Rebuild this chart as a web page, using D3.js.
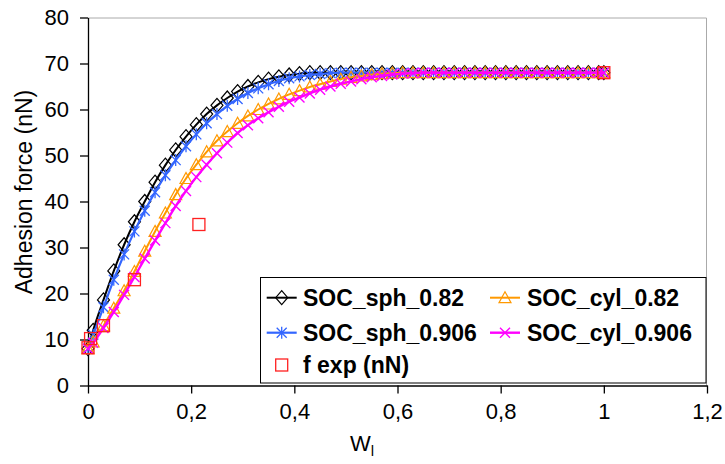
<!DOCTYPE html>
<html><head><meta charset="utf-8">
<script src="https://cdn.jsdelivr.net/npm/d3@7"></script>
<style>
body{margin:0;background:#fff;}
svg{display:block;font-family:"Liberation Sans",Arial,sans-serif;}
</style></head>
<body><svg id="c" width="725" height="464"></svg>
<script>
const xValues = [0,0.01,0.03,0.05,0.07,0.09,0.11,0.13,0.15,0.17,0.19,0.21,0.23,0.25,0.27,0.29,0.31,0.33,0.35,0.37,0.39,0.41,0.43,0.45,0.47,0.49,0.51,0.53,0.55,0.57,0.59,0.61,0.63,0.65,0.67,0.69,0.71,0.73,0.75,0.77,0.79,0.81,0.83,0.85,0.87,0.89,0.91,0.93,0.95,0.97,0.99,1];
const sph082 = [8,12,18.6,24.9,30.6,35.6,40,44.2,47.9,51.2,54.1,56.7,59,60.9,62.5,63.9,65,65.9,66.6,67.1,67.5,67.8,68,68,68,68,68,68,68,68,68,68,68,68,68,68,68,68,68,68,68,68,68,68,68,68,68,68,68,68,68,68];
const sph0906 = [8,11,17,23,28.5,33.5,38,42,45.7,49,52,54.6,57,59,60.8,62.3,63.6,64.6,65.5,66.2,66.8,67.2,67.5,67.7,67.9,68,68,68,68,68,68,68,68,68,68,68,68,68,68,68,68,68,68,68,68,68,68,68,68,68,68,68];
const cyl082 = [8,9.5,13,16.8,20.6,24.8,29.2,33.5,37.5,41.5,45,48,50.8,53.2,55.2,57,58.6,60,61.2,62.3,63.3,64.1,64.9,65.5,66.1,66.6,67,67.3,67.6,67.8,67.9,68,68,68,68,68,68,68,68,68,68,68,68,68,68,68,68,68,68,68,68,68];
const cyl0906 = [8,9.3,12.5,16,19.7,23.6,27.6,31.5,35.3,39,42.3,45.3,48,50.5,52.8,54.9,56.6,58.1,59.4,60.6,61.7,62.6,63.5,64.3,65,65.6,66.1,66.6,67,67.3,67.6,67.8,67.9,68,68,68,68,68,68,68,68,68,68,68,68,68,68,68,68,68,68,68];
const expX = [0,0.005,0.03,0.09,0.215,1];
const expY = [8.2,10.2,13,23,35,68];
const xTicks = [0,0.2,0.4,0.6,0.8,1,1.2];
const yTicks = [0,10,20,30,40,50,60,70,80];
const seriesNames = ["SOC_sph_0.82","SOC_cyl_0.82","SOC_sph_0.906","SOC_cyl_0.906","f exp (nN)"];

const svg = d3.select("#c");
const x = d3.scaleLinear().domain([0,1.2]).range([88,707]);
const y = d3.scaleLinear().domain([0,80]).range([385.5,17.5]);

// plot area border (top/right)
svg.append("path").attr("d",`M${x(0)},${y(80)+0.5}H${x(1.2)-0.5}V${y(0)}`)
  .attr("fill","none").attr("stroke","#aaa").attr("stroke-width",1);

const fmt = d => String(d).replace(".",",");
const gx = svg.append("g").attr("transform",`translate(0,${y(0)})`)
  .call(d3.axisBottom(x).tickValues(xTicks).tickFormat(fmt).tickSize(8).tickPadding(10).tickSizeOuter(0));
const gy = svg.append("g").attr("transform",`translate(${x(0)},0)`)
  .call(d3.axisLeft(y).tickValues(yTicks).tickSize(8).tickPadding(11).tickSizeOuter(0));
[gx,gy].forEach(g=>{
  g.selectAll("path,line").attr("stroke","#000").attr("stroke-width",1.3);
  g.selectAll("text").attr("font-size",22).attr("fill","#000").attr("font-family","Liberation Sans, Arial, sans-serif");
});

// axis titles
svg.append("text").attr("x",362).attr("y",451).attr("text-anchor","middle")
  .attr("font-size",22).text("W").append("tspan").attr("font-size",15).attr("dy",5).text("l");
svg.append("text").attr("transform","translate(32,192) rotate(-90)").attr("text-anchor","middle")
  .attr("font-size",23).text("Adhesion force (nN)");

// marker generators
function marker(g, type, color, cx, cy){
  if(type==="diamond"){
    g.append("path").attr("d",`M${cx},${cy-7}L${cx+6},${cy}L${cx},${cy+7}L${cx-6},${cy}Z`)
      .attr("fill","none").attr("stroke",color).attr("stroke-width",1.2);
  } else if(type==="triangle"){
    g.append("path").attr("d",`M${cx},${cy-6}L${cx+6},${cy+5}L${cx-6},${cy+5}Z`)
      .attr("fill","none").attr("stroke",color).attr("stroke-width",1.2);
  } else if(type==="star"){
    g.append("path").attr("d",`M${cx},${cy-6}V${cy+6}M${cx-5},${cy-5}L${cx+5},${cy+5}M${cx-5},${cy+5}L${cx+5},${cy-5}`)
      .attr("fill","none").attr("stroke",color).attr("stroke-width",1.3);
  } else if(type==="x"){
    g.append("path").attr("d",`M${cx-5},${cy-5}L${cx+5},${cy+5}M${cx-5},${cy+5}L${cx+5},${cy-5}`)
      .attr("fill","none").attr("stroke",color).attr("stroke-width",1.4);
  } else if(type==="square"){
    g.append("rect").attr("x",cx-6).attr("y",cy-6).attr("width",12).attr("height",12)
      .attr("fill","none").attr("stroke",color).attr("stroke-width",1.3);
  }
}

const series = [
  {name:seriesNames[0], vals:sph082, color:"#000000", m:"diamond", lw:2},
  {name:seriesNames[2], vals:sph0906, color:"#3366FF", m:"star", lw:2.2},
  {name:seriesNames[1], vals:cyl082, color:"#FF9900", m:"triangle", lw:2},
  {name:seriesNames[3], vals:cyl0906, color:"#FF00FF", m:"x", lw:2.4}
];
const line = d3.line().x(d=>x(d[0])).y(d=>y(d[1])).curve(d3.curveMonotoneX);
series.forEach(s=>{
  const pts = xValues.map((xv,i)=>[xv,s.vals[i]]);
  const g = svg.append("g");
  g.append("path").attr("d",line(pts)).attr("fill","none").attr("stroke",s.color).attr("stroke-width",s.lw);
  pts.forEach(p=>marker(g,s.m,s.color,x(p[0]),y(p[1])));
});
const ge = svg.append("g");
expX.forEach((xv,i)=>marker(ge,"square","#FF2020",x(xv),y(expY[i])));

// legend
const lg = svg.append("g");
lg.append("rect").attr("x",260.5).attr("y",277.5).attr("width",445.5).attr("height",105.5)
  .attr("fill","#fff").attr("stroke","#000").attr("stroke-width",1);
const legItems = [
  {s:series[0], lx:266.7, tx:303, ly:297.7},
  {s:series[2], lx:490, tx:527, ly:297.7},
  {s:series[1], lx:266.7, tx:303, ly:332.7},
  {s:series[3], lx:490, tx:527, ly:332.7}
];
legItems.forEach(it=>{
  lg.append("line").attr("x1",it.lx).attr("x2",it.lx+30).attr("y1",it.ly).attr("y2",it.ly)
    .attr("stroke",it.s.color).attr("stroke-width",it.s.lw);
  marker(lg,it.s.m,it.s.color,it.lx+15,it.ly);
  lg.append("text").attr("x",it.tx).attr("y",it.ly+8).attr("font-size",23).attr("font-weight","bold").text(it.s.name);
});
marker(lg,"square","#FF2020",281.7,365);
lg.append("text").attr("x",303).attr("y",373).attr("font-size",23).attr("font-weight","bold").text(seriesNames[4]);
</script></body></html>
